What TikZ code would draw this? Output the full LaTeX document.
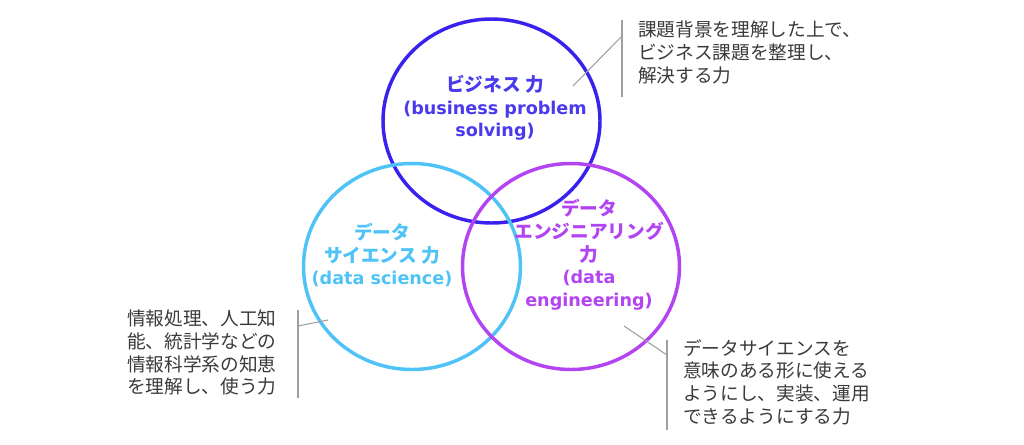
\documentclass[tikz,border=0pt]{standalone}
\usepackage{fontspec}
\setmainfont{DejaVu Sans}
\newfontfamily\jpfont{Noto Sans CJK JP}
\newcommand{\jpl}[1]{{\fontsize{14}{17}\selectfont\jpfont\bfseries #1}}
\definecolor{bizc}{HTML}{3A22EE}
\definecolor{bizt}{HTML}{4A3AEE}
\definecolor{dsc}{HTML}{4FC3F7}
\definecolor{dec}{HTML}{B244F2}
\definecolor{anno}{HTML}{3A3A3A}
\definecolor{lead}{HTML}{A0A0A0}
\begin{document}
\begin{tikzpicture}[x=0.75pt,y=-0.75pt,
  ring/.style={line width=2.6pt},
  lab/.style={align=center,inner sep=0pt,font=\fontsize{13.2}{17}\selectfont\bfseries},
  annot/.style={align=left,inner sep=0pt,anchor=north west,text=anno,font=\fontsize{14}{17}\selectfont\jpfont},
  leader/.style={draw=lead,line width=0.8pt}]
\useasboundingbox (0,0) rectangle (1024,444);
% circles
\draw[ring,bizc] (491.5,121) ellipse [x radius=108.5, y radius=102];
\draw[ring,dsc] (412,266.5) ellipse [x radius=108.5, y radius=103];
\draw[ring,dec] (571,266.5) ellipse [x radius=108.5, y radius=103];
% labels
\node[lab,text=bizt] (biz) at (495,108) {\jpl{ビジネス 力}\\(business problem\\solving)};
\node[lab,text=dsc] (ds) at (382,255) {\jpl{データ}\\\jpl{サイエンス 力}\\(data science)};
\node[lab,text=dec] (de) at (589,255) {\jpl{データ}\\\jpl{エンジニアリング}\\\jpl{力}\\(data\\engineering)};
% annotations
\node[annot] (a1) at (638,21) {課題背景を理解した上で、\\ビジネス課題を整理し、\\解決する力};
\node[annot] (a2) at (127,310) {情報処理、人工知\\能、統計学などの\\情報科学系の知恵\\を理解し、使う力};
\node[annot] (a3) at (683,339) {データサイエンスを\\意味のある形に使える\\ようにし、実装、運用\\できるようにする力};
% brackets and leaders
\coordinate (b1t) at (622,20); \coordinate (b1b) at (622,97);
\coordinate (b1m) at (622,36); \coordinate (p1) at (573,86);
\draw[leader] (b1t) -- (b1b);
\draw[leader] (b1m) -- (p1);
\coordinate (b2t) at (298,310); \coordinate (b2b) at (298,398);
\coordinate (b2m) at (298,326); \coordinate (p2) at (328,320);
\draw[leader] (b2t) -- (b2b);
\draw[leader] (b2m) -- (p2);
\coordinate (b3t) at (667,340); \coordinate (b3b) at (667,430);
\coordinate (b3m) at (667,355); \coordinate (p3) at (624,326);
\draw[leader] (b3t) -- (b3b);
\draw[leader] (b3m) -- (p3);
\end{tikzpicture}
\end{document}
